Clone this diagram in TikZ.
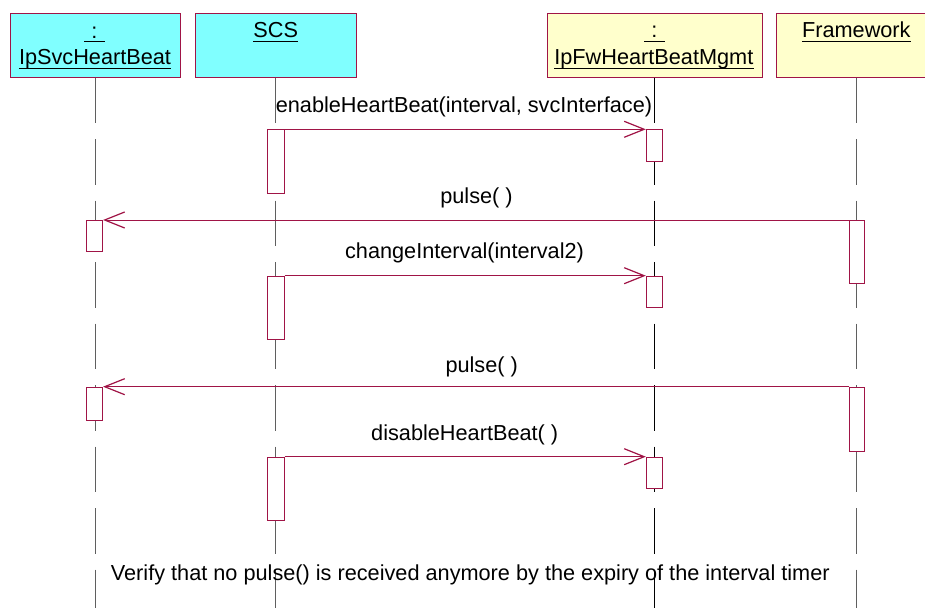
\documentclass[tikz,border=0pt]{standalone}
\usepackage{fontspec}
\setmainfont{Liberation Sans}
\usetikzlibrary{arrows.meta}
\definecolor{rose}{RGB}{160,20,70}
\definecolor{cyanfill}{RGB}{128,255,255}
\definecolor{yelfill}{RGB}{255,255,204}
\definecolor{lifegray}{RGB}{95,95,95}
\begin{document}
\begin{tikzpicture}[x=1pt,y=-1pt,
  part/.style={draw=rose, line width=1pt, anchor=north west, inner sep=0pt, minimum height=63.4pt},
  act/.style={draw=rose, fill=white, line width=1pt, anchor=north west, inner sep=0pt, minimum width=16.4pt},
  life/.style={line width=1pt, dash pattern=on 45.5pt off 16pt},
  msg/.style={draw=rose, line width=1pt, -{Straight Barb[length=20pt,width=16pt,line width=1.2pt]}},
  lbl/.style={anchor=base, inner sep=0pt, font=\fontsize{21.7}{25}\selectfont},
  uline/.style={line width=1.2pt}
]
\useasboundingbox (0,0) rectangle (925,607);
\clip (0,0) rectangle (925,607);
\fill[white] (0,0) rectangle (925,607);
\coordinate (bottom) at (0,612);

% participants
\node[part, fill=cyanfill, minimum width=170pt] (p1) at (9.5,13.3) {};
\node[part, fill=cyanfill, minimum width=161.3pt] (p2) at (194.7,13.3) {};
\node[part, fill=yelfill, minimum width=215pt] (p3) at (546.7,13.3) {};
\node[part, fill=yelfill, minimum width=160.6pt] (p4) at (775.7,13.3) {};

% participant labels
\node[lbl, minimum width=20pt] (c1) at (94.3,38.3) {:};
\node[lbl] (n1) at (95,65) {IpSvcHeartBeat};
\node[lbl] (n2) at (275.8,38) {SCS};
\node[lbl, minimum width=20pt] (c3) at (654.3,38) {:};
\node[lbl] (n3) at (653.8,65) {IpFwHeartBeatMgmt};
\node[lbl] (n4) at (856.3,38) {Framework};
\foreach \t/\d in {c1/3.4,n1/3.4,n2/3.4,c3/3.4,n3/3.4,n4/3.4}
  \draw[uline] ([yshift=-\d pt]\t.base west) -- ([yshift=-\d pt]\t.base east);

% lifelines
\draw[life, lifegray] (p1.south) -- (p1.south |- bottom);
\draw[life, lifegray] (p2.south) -- (p2.south |- bottom);
\draw[life, black] (p3.south) -- (p3.south |- bottom);
\draw[life, lifegray] (p4.south) -- (p4.south |- bottom);

% activations
\node[act, minimum height=63.4pt] (a1) at (267.3,129.3) {};
\node[act, minimum height=31.4pt] (b1) at (645.8,129.3) {};
\node[act, minimum width=15pt, minimum height=63.3pt] (f1) at (849.3,220) {};
\node[act, minimum height=31.3pt] (s1) at (85.7,220) {};
\node[act, minimum height=63.3pt] (a2) at (267.3,275.7) {};
\node[act, minimum height=31.3pt] (b2) at (645.8,275.7) {};
\node[act, minimum width=15pt, minimum height=64.6pt] (f2) at (849.3,386.7) {};
\node[act, minimum height=33pt] (s2) at (85.7,386.7) {};
\node[act, minimum height=63.6pt] (a3) at (267.3,456.7) {};
\node[act, minimum height=31.6pt] (b3) at (645.8,456.7) {};

% messages
\draw[msg] (a1.north east) -- (b1.north west);
\draw[msg] (f1.north west) -- (s1.north east);
\draw[msg] (a2.north east) -- (b2.north west);
\draw[msg] (f2.north west) -- (s2.north east);
\draw[msg] (a3.north east) -- (b3.north west);

% message labels
\node[lbl] (m1) at (464,112.3) {enableHeartBeat(interval, svcInterface)};
\node[lbl] (m2) at (476.5,203.3) {pulse( )};
\node[lbl] (m3) at (464.5,258) {changeInterval(interval2)};
\node[lbl] (m4) at (481.7,372.7) {pulse( )};
\node[lbl] (m5) at (464.7,440) {disableHeartBeat( )};
\node[lbl] (note) at (470.3,580.7) {Verify that no pulse() is received anymore by the expiry of the interval timer};
\end{tikzpicture}
\end{document}
